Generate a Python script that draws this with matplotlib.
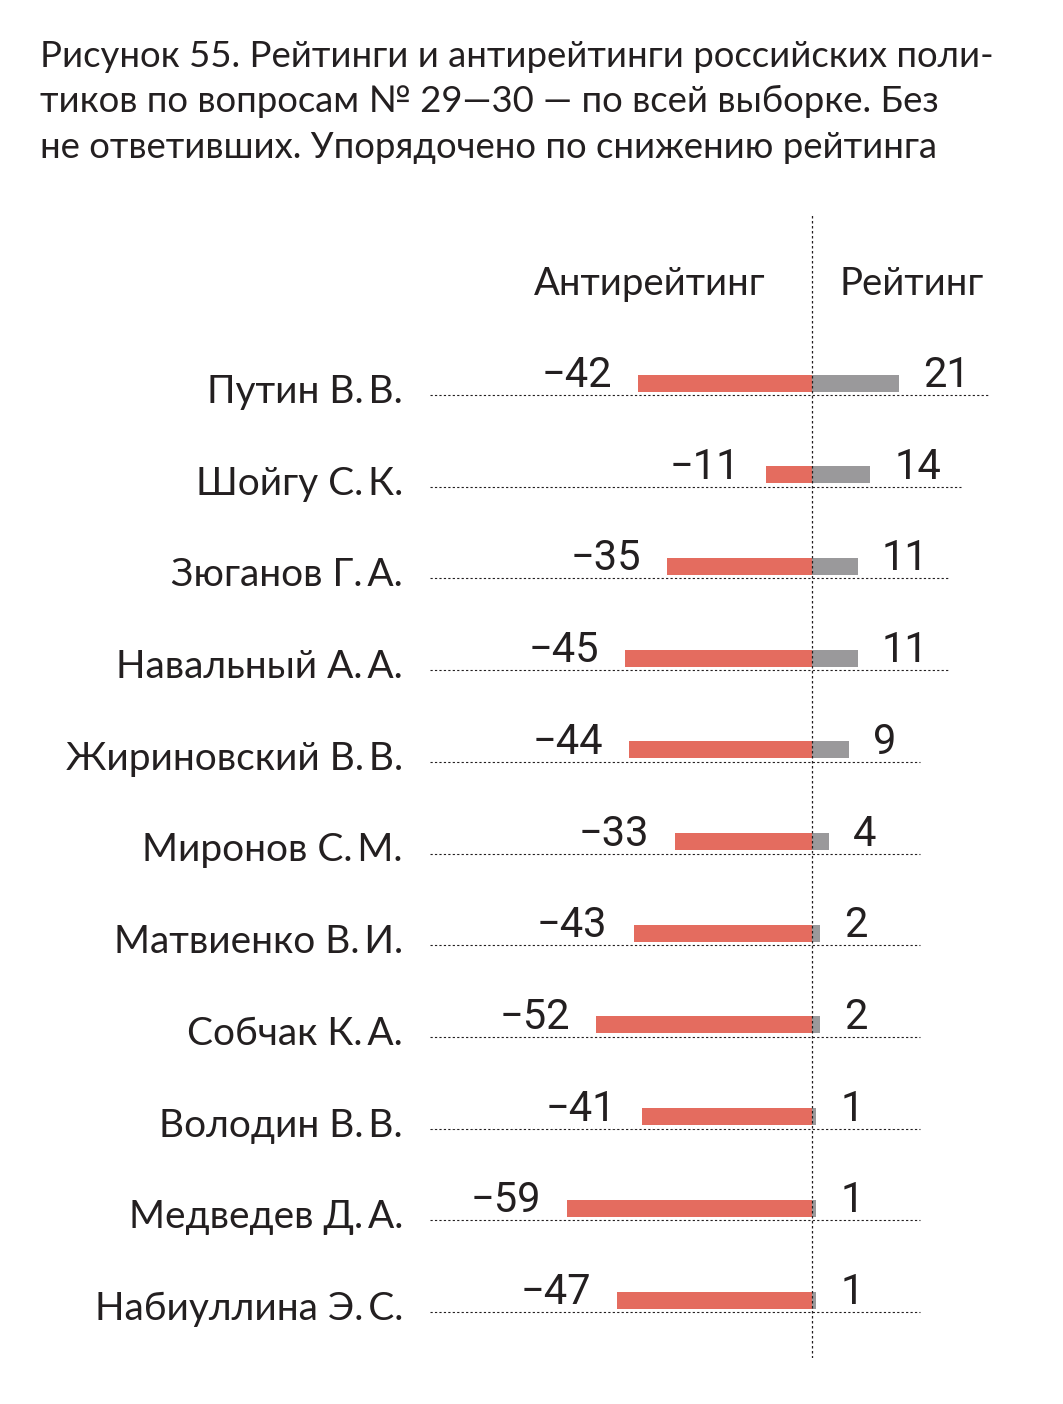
import matplotlib.pyplot as plt
import numpy as np

# data
names = ["Путин В.\u2009В.", "Шойгу С.\u2009К.", "Зюганов Г.\u2009А.", "Навальный А.\u2009А.",
         "Жириновский В.\u2009В.", "Миронов С.\u2009М.", "Матвиенко В.\u2009И.", "Собчак К.\u2009А.",
         "Володин В.\u2009В.", "Медведев Д.\u2009А.", "Набиуллина Э.\u2009С."]
antirating = [-42, -11, -35, -45, -44, -33, -43, -52, -41, -59, -47]
rating = [21, 14, 11, 11, 9, 4, 2, 2, 1, 1, 1]

title_lines = ["Рисунок 55. Рейтинги и антирейтинги российских поли-",
               "тиков по вопросам № 29—30 — по всей выборке. Без",
               "не ответивших. Упорядочено по снижению рейтинга"]

RED = "#e46c5f"
GRAY = "#9a999b"
TXT = "#231f20"
NUM_FONT = ["Liberation Sans Narrow", "Roboto"]

W, H = 1063, 1404
fig = plt.figure(figsize=(W / 100, H / 100), dpi=100)

# axes placed so that zero sits at x=812px, ~4.15 px per point
zero_px, ppu = 812, 4.15
row0_px, row_step = 383, 91.7
ax_l, ax_r, ax_t, ax_b = 430, 1000, 213, 1358
ax = fig.add_axes([ax_l / W, 1 - ax_b / H, (ax_r - ax_l) / W, (ax_b - ax_t) / H])
ax.set_xlim((ax_l - zero_px) / ppu, (ax_r - zero_px) / ppu)
ax.set_ylim((ax_b - row0_px) / row_step, (ax_t - row0_px) / row_step)
ax.axis("off")

y = np.arange(len(names))
bh = 17 / row_step
ax.barh(y, antirating, height=bh, color=RED, zorder=2)
ax.barh(y, rating, height=bh, color=GRAY, zorder=2)

ax.axvline(0, color=TXT, lw=0.9, ls=(0, (2, 2)), zorder=3)

name_x = (403 - zero_px) / ppu
gap = 26 / ppu
for i in range(len(names)):
    line_y = i + 12 / row_step
    x_end = rating[i] + 22 if rating[i] >= 10 else 26
    ax.plot([ax.get_xlim()[0], x_end], [line_y, line_y], color=TXT, lw=0.8,
            ls=(0, (2, 2)), zorder=1, clip_on=False)
    ax.text(name_x, i + 20 / row_step, names[i], ha="right", va="baseline",
            fontsize=28, family="Lato", color=TXT, clip_on=False)
    ax.text(antirating[i] - gap, i + 4 / row_step, "−" + str(-antirating[i]),
            ha="right", va="baseline", fontsize=30, family=NUM_FONT, color=TXT)
    ax.text(rating[i] + 24 / ppu, i + 4 / row_step, str(rating[i]),
            ha="left", va="baseline", fontsize=30, family=NUM_FONT, color=TXT)

hdr_y = (295 - row0_px) / row_step
ax.text((650 - zero_px) / ppu, hdr_y, "Антирейтинг", ha="center", va="baseline",
        fontsize=27.5, family="Lato", color=TXT)
ax.text((912 - zero_px) / ppu, hdr_y, "Рейтинг", ha="center", va="baseline",
        fontsize=27.5, family="Lato", color=TXT)

for k, line in enumerate(title_lines):
    fig.text(40 / W, 1 - (67 + 45.5 * k) / H, line, ha="left", va="baseline",
             fontsize=26.3, family="Lato", color=TXT)

fig.savefig("out.png", dpi=100)
